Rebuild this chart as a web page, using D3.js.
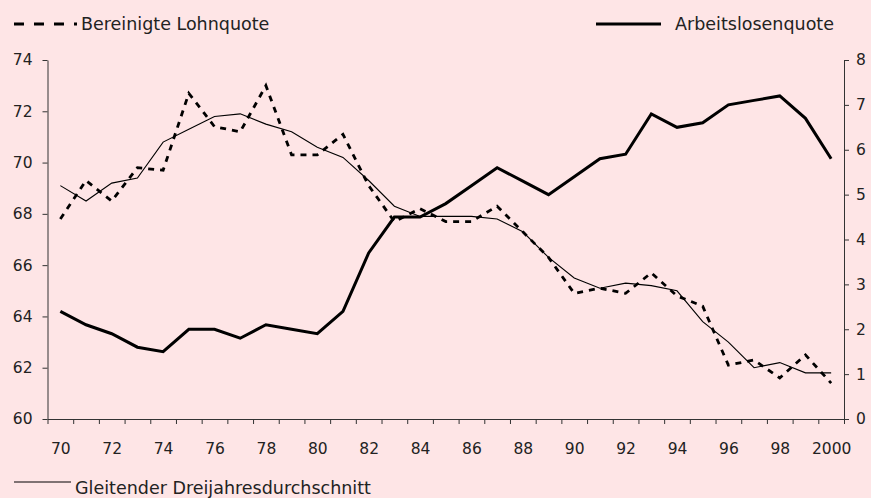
<!DOCTYPE html>
<html>
<head>
<meta charset="utf-8">
<script src="https://cdn.jsdelivr.net/npm/d3@7"></script>
<style>
  html, body { margin: 0; padding: 0; background: #fee5e6; }
  svg { display: block; }
  text { font-family: "DejaVu Sans", sans-serif; fill: #222; }
</style>
</head>
<body>
<svg id="chart" width="871" height="498"></svg>
<script>
// Years 1970–2000
const years = d3.range(1970, 2001);

// Bereinigte Lohnquote (left axis, %)
const lohnquote = [67.8, 69.3, 68.5, 69.8, 69.7, 72.7, 71.4, 71.2, 73.0, 70.3,
                   70.3, 71.1, 69.1, 67.7, 68.2, 67.7, 67.7, 68.3, 67.3, 66.3,
                   64.9, 65.1, 64.9, 65.7, 64.8, 64.4, 62.1, 62.3, 61.6, 62.5,
                   61.4];

// Gleitender Dreijahresdurchschnitt (left axis, %)
const gleitend = [69.1, 68.5, 69.2, 69.4, 70.8, 71.3, 71.8, 71.9, 71.5, 71.2,
                  70.6, 70.2, 69.3, 68.3, 67.9, 67.9, 67.9, 67.8, 67.3, 66.3,
                  65.5, 65.1, 65.3, 65.2, 65.0, 63.8, 63.0, 62.0, 62.2, 61.8,
                  61.8];

// Arbeitslosenquote (right axis, %)
const arbeitslos = [2.4, 2.1, 1.9, 1.6, 1.5, 2.0, 2.0, 1.8, 2.1, 2.0,
                    1.9, 2.4, 3.7, 4.5, 4.5, 4.8, 5.2, 5.6, 5.3, 5.0,
                    5.4, 5.8, 5.9, 6.8, 6.5, 6.6, 7.0, 7.1, 7.2, 6.7,
                    5.8];

const leftTicks = [60, 62, 64, 66, 68, 70, 72, 74];
const rightTicks = [0, 1, 2, 3, 4, 5, 6, 7, 8];
const xLabelYears = d3.range(1970, 2001, 2);
const xTickLabels = ["70", "72", "74", "76", "78", "80", "82", "84", "86", "88",
                     "90", "92", "94", "96", "98", "2000"];

const svg = d3.select("#chart");
const plot = { left: 47.5, right: 844, top: 60, bottom: 419 };

// Years sit in the middle of their slot; ticks mark the slot borders
const x = d3.scaleLinear().domain([1969.5, 2000.5]).range([plot.left, plot.right]);
const yL = d3.scaleLinear().domain([60, 74]).range([plot.bottom, plot.top]);
const yR = d3.scaleLinear().domain([0, 8]).range([plot.bottom, plot.top]);

const axisColor = "#333";
function styleAxis(g) {
  g.select(".domain").attr("stroke", axisColor).attr("stroke-width", 1);
  g.selectAll(".tick line").attr("stroke", axisColor).attr("stroke-width", 1);
  g.selectAll(".tick text").style("font-size", "15.5px").attr("fill", "#222");
}

// X axis: tick marks between years
svg.append("g")
  .attr("transform", `translate(0,${plot.bottom})`)
  .call(d3.axisBottom(x)
    .tickValues(d3.range(1969.5, 2001, 1))
    .tickSize(5).tickSizeOuter(0)
    .tickFormat(() => ""))
  .call(styleAxis);

// X axis labels on even years
svg.append("g")
  .attr("transform", `translate(0,${plot.bottom})`)
  .call(d3.axisBottom(x)
    .tickValues(xLabelYears)
    .tickSize(0).tickPadding(24)
    .tickFormat((d, i) => xTickLabels[i]))
  .call(g => g.select(".domain").remove())
  .call(styleAxis);

// Left axis
svg.append("g")
  .attr("transform", `translate(${plot.left},0)`)
  .call(d3.axisLeft(yL).tickValues(leftTicks).tickSize(5).tickSizeOuter(0).tickPadding(10))
  .call(styleAxis);

// Right axis
svg.append("g")
  .attr("transform", `translate(${plot.right},0)`)
  .call(d3.axisRight(yR).tickValues(rightTicks).tickSize(5).tickSizeOuter(0).tickPadding(7))
  .call(styleAxis);

const lineL = vals => d3.line().x((d, i) => x(years[i])).y(d => yL(d))(vals);
const lineR = vals => d3.line().x((d, i) => x(years[i])).y(d => yR(d))(vals);

// Arbeitslosenquote
svg.append("path")
  .attr("d", lineR(arbeitslos))
  .attr("fill", "none").attr("stroke", "#000")
  .attr("stroke-width", 3).attr("stroke-linejoin", "miter");

// Gleitender Durchschnitt
svg.append("path")
  .attr("d", lineL(gleitend))
  .attr("fill", "none").attr("stroke", "#000").attr("stroke-width", 1.1);

// Bereinigte Lohnquote
svg.append("path")
  .attr("d", lineL(lohnquote))
  .attr("fill", "none").attr("stroke", "#000")
  .attr("stroke-width", 2.8).attr("stroke-dasharray", "6,6");

// Legends
const legend = svg.append("g");
legend.append("line")
  .attr("x1", 14).attr("x2", 77).attr("y1", 24).attr("y2", 24)
  .attr("stroke", "#000").attr("stroke-width", 3).attr("stroke-dasharray", "10,10");
legend.append("text").attr("x", 81).attr("y", 30)
  .style("font-size", "17.5px").text("Bereinigte Lohnquote");

legend.append("line")
  .attr("x1", 596).attr("x2", 661).attr("y1", 24).attr("y2", 24)
  .attr("stroke", "#000").attr("stroke-width", 3);
legend.append("text").attr("x", 675).attr("y", 30)
  .style("font-size", "17.5px").text("Arbeitslosenquote");

legend.append("line")
  .attr("x1", 14).attr("x2", 71).attr("y1", 482).attr("y2", 482)
  .attr("stroke", "#000").attr("stroke-width", 1.2);
legend.append("text").attr("x", 75).attr("y", 493.5)
  .style("font-size", "17.5px").text("Gleitender Dreijahresdurchschnitt");
</script>
</body>
</html>
